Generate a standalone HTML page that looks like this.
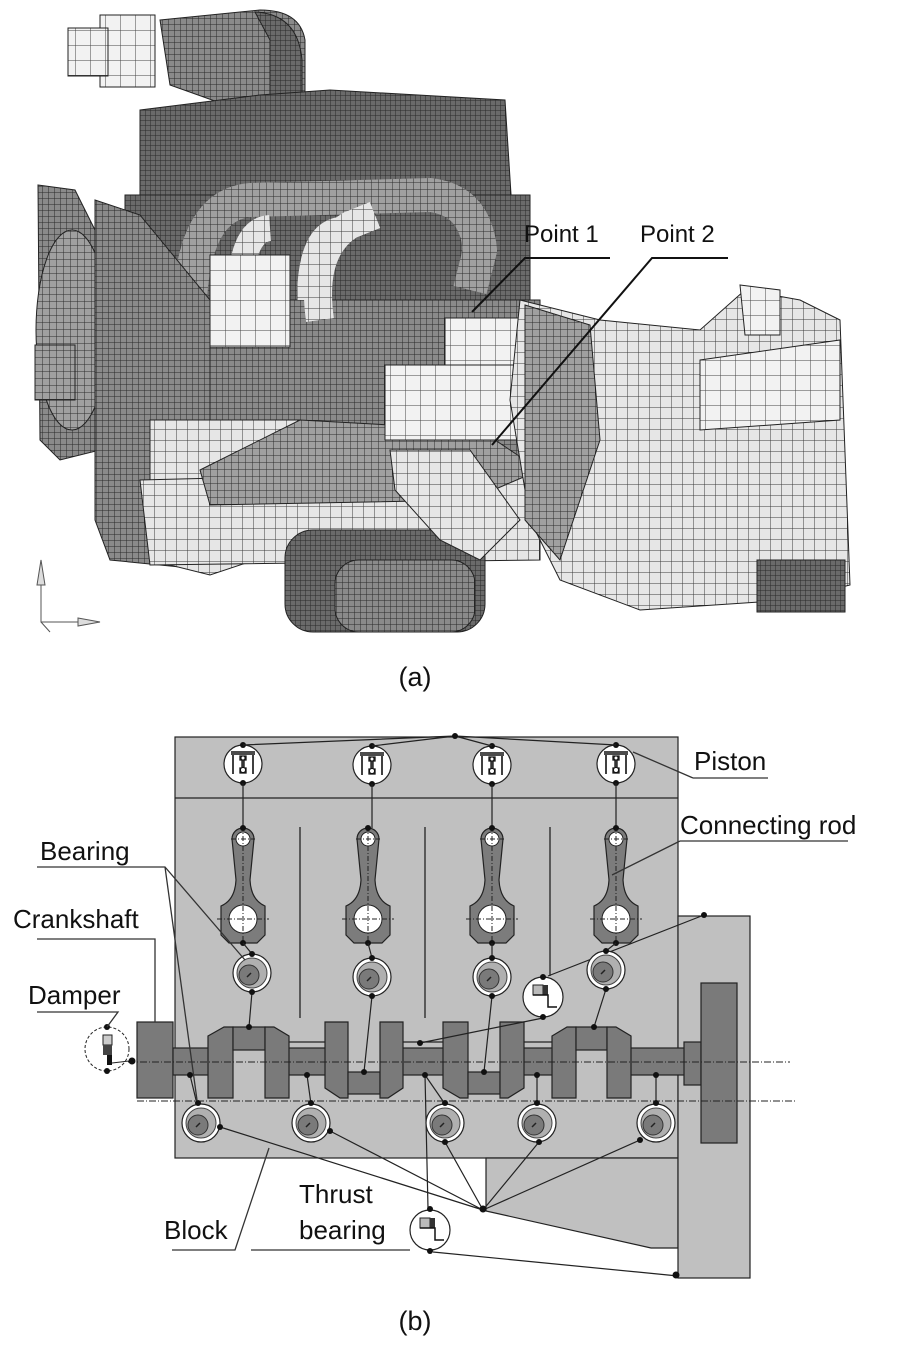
<!DOCTYPE html>
<html><head><meta charset="utf-8"><style>
html,body{margin:0;padding:0;background:#fff;}
svg{display:block;}
text{font-family:"Liberation Sans",Arial,sans-serif;fill:#111;}
</style></head><body>
<svg width="899" height="1356" viewBox="0 0 899 1356" xmlns="http://www.w3.org/2000/svg">
<defs>
<pattern id="pd" width="5" height="5" patternUnits="userSpaceOnUse"><rect width="5" height="5" fill="#6a6a6a"/><path d="M0 0H5M0 0V5" stroke="#2a2a2a" stroke-width="1"/></pattern>
<pattern id="pm" width="7" height="7" patternUnits="userSpaceOnUse"><rect width="7" height="7" fill="#a0a0a0"/><path d="M0 0H7M0 0V7" stroke="#2e2e2e" stroke-width="1"/></pattern>
<pattern id="pl" width="11" height="11" patternUnits="userSpaceOnUse"><rect width="11" height="11" fill="#e6e6e6"/><path d="M0 0H11M0 0V11" stroke="#3a3a3a" stroke-width="1"/></pattern>
<pattern id="pw" width="15" height="15" patternUnits="userSpaceOnUse"><rect width="15" height="15" fill="#f2f2f2"/><path d="M0 0H15M0 0V15" stroke="#444" stroke-width="1"/></pattern>
<pattern id="pg" width="6" height="6" patternUnits="userSpaceOnUse"><rect width="6" height="6" fill="#8a8a8a"/><path d="M0 0H6M0 0V6" stroke="#2a2a2a" stroke-width="1"/></pattern>
<g id="piston">
 <circle r="19" fill="#fff" stroke="#222" stroke-width="1.2"/>
 <path d="M-12 -12H12M-12 -10H12M-10 -9V10M10 -9V10" stroke="#111" stroke-width="1.6" fill="none"/>
 <path d="M-3 -8h6v4h-2v8h2v5h-6v-5h2v-8h-2z" fill="#777" stroke="#111" stroke-width="1.3"/>
 <circle cy="-6" r="2" fill="#fff" stroke="#111"/><circle cy="6" r="2.5" fill="#fff" stroke="#111"/>
 <circle cy="-19" r="3" fill="#111"/><circle cy="19" r="3" fill="#111"/>
</g>
<g id="rod">
 <path d="M-11 839 A11 11 0 0 1 11 839 L7 880 Q8 900 22 906 L22 935 L14 943 L-14 943 L-22 935 L-22 906 Q-8 900 -7 880 Z" fill="#7c7c7c" stroke="#222" stroke-width="1.2"/>
 <circle cy="839" r="7" fill="#fff" stroke="#222"/>
 <circle cy="919" r="14" fill="#fff" stroke="#222"/>
 <path d="M0 826V945M-26 919H26M-12 839H12" stroke="#222" stroke-width="1" stroke-dasharray="5 2 1 2"/>
 <circle cy="828" r="3" fill="#111"/><circle cy="943" r="3" fill="#111"/>
</g>
<g id="brg">
 <circle r="19" fill="#fff" stroke="#222" stroke-width="1.2"/>
 <circle r="15" fill="#b0b0b0" stroke="#444"/>
 <circle cx="-3" cy="2" r="10" fill="#7a7a7a" stroke="#333"/>
 <path d="M-5 4L-1 0" stroke="#222" stroke-width="1.5"/>
</g>
<g id="thrust">
 <circle r="20" fill="#fff" stroke="#222" stroke-width="1.2"/>
 <rect x="-10" y="-12" width="10" height="10" fill="#bbb" stroke="#222"/>
 <rect x="0" y="-12" width="5" height="10" fill="#333"/>
 <path d="M-10 -2H5V10H14" stroke="#111" stroke-width="1.5" fill="none"/>
</g>
</defs>

<!-- ===== (a) engine mesh ===== -->
<g stroke="#222" stroke-width="1">
 <!-- pipe top-left -->
 <path d="M160 20 L260 10 Q300 10 305 40 L305 100 L240 110 L170 85 Z" fill="url(#pg)"/>
 <path d="M255 12 Q298 14 302 60 L302 100 L270 100 L270 40 Z" fill="url(#pd)"/>
 <rect x="100" y="15" width="55" height="72" fill="url(#pw)"/>
 <rect x="68" y="28" width="40" height="48" fill="url(#pw)"/>
 <!-- top cover -->
 <path d="M140 110 L260 95 L330 90 L505 100 L512 210 L140 215 Z" fill="url(#pd)"/>
 <!-- head -->
 <rect x="125" y="195" width="405" height="150" fill="url(#pd)"/>
 <!-- block body -->
 <rect x="110" y="300" width="430" height="180" fill="url(#pg)"/>
 <!-- manifold tubes -->
 <path d="M190 300 Q195 205 250 200 L430 195 Q475 200 480 250 L470 290" fill="none" stroke="url(#pm)" stroke-width="34"/>
 <path d="M240 300 Q240 230 270 228 M310 300 Q310 235 340 230" fill="none" stroke="url(#pl)" stroke-width="26"/>
 <path d="M320 320 Q310 250 350 225 L375 215" fill="none" stroke="url(#pl)" stroke-width="28"/>
 <!-- left pulley -->
 <path d="M38 185 L75 190 L100 240 L100 450 L60 460 L40 440 Z" fill="url(#pg)"/>
 <ellipse cx="72" cy="330" rx="36" ry="100" fill="url(#pm)"/>
 <rect x="35" y="345" width="40" height="55" fill="url(#pm)"/>
 <path d="M95 200 L140 215 L210 300 L210 570 L110 560 L95 520 Z" fill="url(#pg)"/>
 <!-- lower front panels -->
 <path d="M150 420 L300 420 L300 545 L210 575 L150 560 Z" fill="url(#pl)"/>
 <path d="M140 480 L540 470 L540 560 L150 565 Z" fill="url(#pl)"/>
 <path d="M200 470 L300 420 L480 430 L540 470 L470 500 L210 505 Z" fill="url(#pm)"/>
 <!-- oil pan -->
 <rect x="285" y="530" width="200" height="102" rx="28" fill="url(#pd)"/>
 <rect x="335" y="560" width="140" height="72" rx="24" fill="url(#pg)"/>
 <!-- cylinders -->
 <rect x="210" y="255" width="80" height="92" fill="url(#pw)"/>
 <rect x="445" y="318" width="75" height="48" fill="url(#pw)"/>
 <rect x="385" y="365" width="165" height="75" fill="url(#pw)"/>
 <!-- bracket -->
 <path d="M390 450 L470 450 L520 520 L480 560 L440 540 L395 490 Z" fill="url(#pl)"/>
 <!-- transmission -->
 <path d="M520 300 L600 320 L700 330 L745 290 L800 300 L840 320 L850 585 L790 600 L640 610 L560 580 L530 520 L510 400 Z" fill="url(#pl)"/>
 <path d="M525 305 L590 325 L600 440 L560 560 L525 520 Z" fill="url(#pm)"/>
 <path d="M740 285 L780 290 L780 335 L745 335 Z" fill="url(#pw)"/>
 <path d="M757 560 L845 560 L845 612 L757 612 Z" fill="url(#pd)"/>
 <path d="M700 360 L840 340 L840 420 L700 430 Z" fill="url(#pw)"/>
</g>
<!-- axis triad -->
<g stroke="#555" fill="none" stroke-width="1">
 <path d="M41 560 V622 H95 M41 622 L50 632"/>
 <path d="M37 585 L41 560 L45 585 Z M78 618 L100 622 L78 626 Z" fill="#ddd"/>
</g>
<!-- point labels -->
<text x="524" y="242" font-size="24">Point 1</text>
<text x="640" y="242" font-size="24">Point 2</text>
<g stroke="#111" stroke-width="2" fill="none">
 <path d="M610 258 H525 L472 312"/>
 <path d="M728 258 H652 L492 445"/>
</g>
<text x="415" y="686" font-size="27" text-anchor="middle">(a)</text>

<!-- ===== (b) schematic ===== -->
<g stroke="#222" stroke-width="1.2">
 <rect x="175" y="737" width="503" height="421" fill="#c0c0c0"/>
 <path d="M486 1158 H678 V1248 H651 L486 1211 Z" fill="#c0c0c0"/>
 <rect x="678" y="916" width="72" height="362" fill="#c0c0c0"/>
 <path d="M175 798 H678" fill="none"/>
</g>
<g stroke="#222" stroke-width="1.3">
 <path d="M300 827V1018M425 827V1018M550 827V976"/>
</g>
<!-- crankshaft -->
<g stroke="#222" stroke-width="1.2" fill="#7a7a7a">
 <rect x="137" y="1022" width="36" height="76"/>
 <rect x="173" y="1048" width="516" height="27"/>
 <rect x="233" y="1050" width="32" height="48" fill="#c0c0c0" stroke="none"/>
 <rect x="348" y="1022" width="32" height="50" fill="#c0c0c0" stroke="none"/>
 <rect x="468" y="1022" width="32" height="50" fill="#c0c0c0" stroke="none"/>
 <rect x="576" y="1050" width="31" height="48" fill="#c0c0c0" stroke="none"/>
 <path d="M289 1042H325M403 1042H443M524 1042H552" fill="none"/>
 <path d="M208 1036 L224 1027 H233 V1098 H208 Z"/>
 <rect x="233" y="1027" width="32" height="23"/>
 <path d="M265 1027 H274 L289 1036 V1098 H265 Z"/>
 <path d="M325 1022 H348 V1098 H340 L325 1088 Z"/>
 <rect x="348" y="1072" width="32" height="22"/>
 <path d="M380 1022 H403 V1088 L388 1098 H380 Z"/>
 <path d="M443 1022 H468 V1098 H460 L443 1088 Z"/>
 <rect x="468" y="1072" width="32" height="22"/>
 <path d="M500 1022 H524 V1088 L508 1098 H500 Z"/>
 <path d="M552 1036 L567 1027 H576 V1098 H552 Z"/>
 <rect x="576" y="1027" width="31" height="23"/>
 <path d="M607 1027 H616 L631 1036 V1098 H607 Z"/>
 <rect x="684" y="1042" width="17" height="43"/>
 <rect x="701" y="983" width="36" height="160"/>
</g>
<g stroke="#222" stroke-width="1" stroke-dasharray="7 2 1 2" fill="none">
 <path d="M128 1062H790M137 1101H795"/>
</g>
<use href="#piston" x="243" y="764"/>
<use href="#piston" x="372" y="765"/>
<use href="#piston" x="492" y="765"/>
<use href="#piston" x="616" y="764"/>
<g stroke="#222" stroke-width="1.2" fill="none">
 <path d="M243 745 L455 736 L372 746 M455 736 L492 746 M455 736 L616 745"/>
 <path d="M243 783V828M372 784V828M492 784V828M616 783V828"/>
</g>
<circle cx="455" cy="736" r="3" fill="#111"/>
<use href="#rod" x="243"/>
<use href="#rod" x="368"/>
<use href="#rod" x="492"/>
<use href="#rod" x="616"/>
<g stroke="#222" stroke-width="1.2" fill="none">
 <path d="M243 943L252 954M252 992L249 1027M368 943L372 958M372 996L364 1072M492 943L492 958M492 996L484 1072M616 943L606 951M606 989L594 1027"/>
 <path d="M548 976L704 915M543 1018L420 1043"/>
</g>
<use href="#brg" x="252" y="973"/>
<use href="#brg" x="372" y="977"/>
<use href="#brg" x="492" y="977"/>
<use href="#brg" x="606" y="970"/>
<use href="#thrust" x="543" y="997"/>
<g fill="#111">
 <circle cx="252" cy="954" r="3"/><circle cx="252" cy="992" r="3"/>
 <circle cx="372" cy="958" r="3"/><circle cx="372" cy="996" r="3"/>
 <circle cx="492" cy="958" r="3"/><circle cx="492" cy="996" r="3"/>
 <circle cx="606" cy="951" r="3"/><circle cx="606" cy="989" r="3"/>
 <circle cx="249" cy="1027" r="3"/><circle cx="364" cy="1072" r="3"/><circle cx="484" cy="1072" r="3"/><circle cx="594" cy="1027" r="3"/>
 <circle cx="543" cy="977" r="3"/><circle cx="543" cy="1017" r="3"/><circle cx="704" cy="915" r="3"/><circle cx="420" cy="1043" r="3"/>
</g>
<g stroke="#222" stroke-width="1.2" fill="none">
 <path d="M190 1075L197 1104M307 1075L311 1104M425 1075L445 1104M425 1075L428 1208M537 1075V1104M656 1075V1104"/>
 <path d="M483 1210L220 1127M483 1210L330 1131M483 1210L445 1142M483 1210L539 1142M483 1210L640 1140"/>
 <path d="M433 1252L678 1276"/>
</g>
<use href="#brg" x="201" y="1123"/>
<use href="#brg" x="311" y="1123"/>
<use href="#brg" x="445" y="1123"/>
<use href="#brg" x="537" y="1123"/>
<use href="#brg" x="656" y="1123"/>
<use href="#thrust" x="430" y="1230"/>
<g fill="#111">
 <circle cx="190" cy="1075" r="3"/><circle cx="307" cy="1075" r="3"/><circle cx="425" cy="1075" r="3"/><circle cx="537" cy="1075" r="3"/><circle cx="656" cy="1075" r="3"/>
 <circle cx="198" cy="1103" r="3"/><circle cx="311" cy="1103" r="3"/><circle cx="445" cy="1103" r="3"/><circle cx="537" cy="1103" r="3"/><circle cx="656" cy="1103" r="3"/>
 <circle cx="220" cy="1127" r="3"/><circle cx="330" cy="1131" r="3"/><circle cx="445" cy="1142" r="3"/><circle cx="539" cy="1142" r="3"/><circle cx="640" cy="1140" r="3"/>
 <circle cx="483" cy="1209" r="3.5"/><circle cx="430" cy="1209" r="3"/><circle cx="430" cy="1251" r="3"/><circle cx="676" cy="1275" r="3.5"/>
</g>
<circle cx="107" cy="1049" r="22" fill="#fff" stroke="#222" stroke-dasharray="3 2"/>
<rect x="103" y="1035" width="9" height="10" fill="#ccc" stroke="#222"/>
<rect x="103" y="1045" width="9" height="10" fill="#444"/>
<rect x="107" y="1055" width="5" height="10" fill="#111"/>
<path d="M112 1063 L129 1061" stroke="#222"/>
<circle cx="107" cy="1027" r="3" fill="#111"/><circle cx="107" cy="1071" r="3" fill="#111"/><circle cx="132" cy="1061" r="3.5" fill="#111"/>
<g font-size="26">
 <text x="694" y="770">Piston</text>
 <text x="680" y="834">Connecting rod</text>
 <text x="40" y="860">Bearing</text>
 <text x="13" y="928">Crankshaft</text>
 <text x="28" y="1004">Damper</text>
 <text x="299" y="1203">Thrust</text>
 <text x="299" y="1239">bearing</text>
 <text x="164" y="1239">Block</text>
</g>
<g stroke="#333" stroke-width="1.3" fill="none">
 <path d="M693 778 H768 M693 778 L633 752"/>
 <path d="M680 841 H848 M680 841 L612 875"/>
 <path d="M37 867 H165 L245 960 M165 867 L197 1100"/>
 <path d="M37 939 H155 V1022"/>
 <path d="M37 1012 H118 L107 1027"/>
 <path d="M172 1250 H235 L269 1148"/>
 <path d="M251 1250 H410"/>
</g>
<text x="415" y="1330" font-size="27" text-anchor="middle">(b)</text>
</svg>
</body></html>
